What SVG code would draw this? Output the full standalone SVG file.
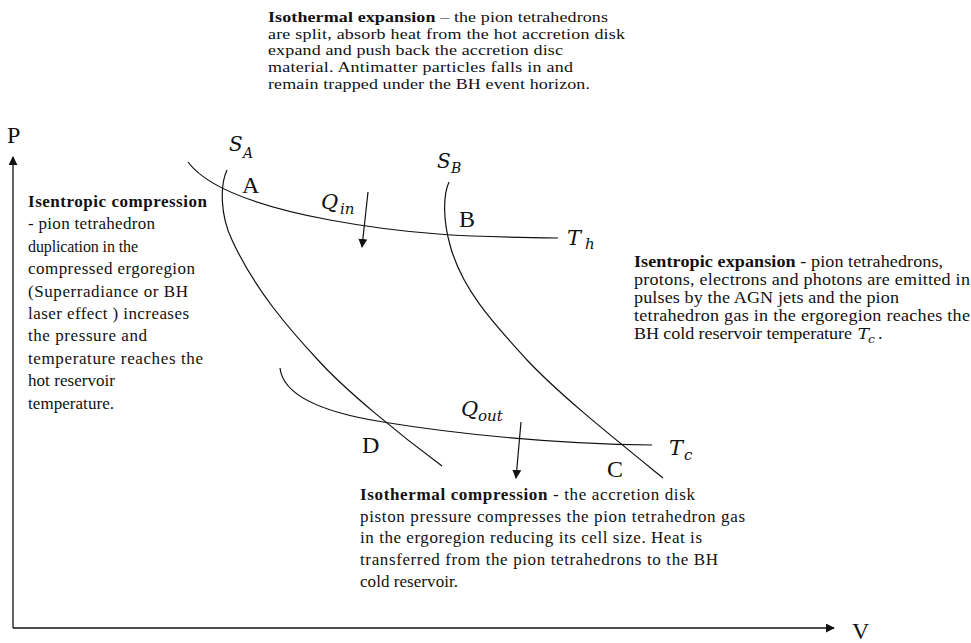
<svg xmlns="http://www.w3.org/2000/svg" width="971" height="643" viewBox="0 0 971 643">
<style>
.t{font-family:"Liberation Serif","Times New Roman",serif;fill:#111;}
.b{font-weight:bold;}
.m{font-family:"DejaVu Serif","Liberation Serif",serif;font-style:italic;fill:#111;}
.u{font-family:"Liberation Serif","Times New Roman",serif;fill:#111;font-size:24px;}
.c{fill:none;stroke:#111;stroke-width:1.2;}
.ax{fill:none;stroke:#111;stroke-width:1.3;}
</style>
<defs>
<marker id="ah" viewBox="0 0 10 10" refX="9" refY="5" markerWidth="9" markerHeight="9" markerUnits="userSpaceOnUse" orient="auto">
<path d="M0,0 L10,5 L0,10 z" fill="#111"/>
</marker>
</defs>
<rect width="971" height="643" fill="#fff"/>

<g id="connectors">
<line class="ax" x1="13" y1="628" x2="13" y2="157" marker-end="url(#ah)"/>
<line class="ax" x1="13" y1="628" x2="834" y2="628" marker-end="url(#ah)"/>
<line class="c" x1="368" y1="192" x2="362" y2="247" marker-end="url(#ah)"/>
<line class="c" x1="521" y1="422" x2="516" y2="478" marker-end="url(#ah)"/>
</g>

<g id="curves">
<path id="Th" class="c" d="M188,162 C205,185 250,205 330,220 S470,237 558,238"/>
<path id="Tc" class="c" d="M280,368 C283,395 320,412 383,422 C450,433 550,444 652,445"/>
<path id="SA" class="c" d="M227,170 C220,185 220,215 232,240 C255,290 290,330 318,360 C345,390 400,435 442,466"/>
<path id="SB" class="c" d="M449,182 C443,195 443,220 450,245 C462,290 495,325 527,360 C560,395 610,435 663,478"/>
</g>

<g id="axis-labels">
<text class="u" x="7" y="143" font-size="22">P</text>
<text class="u" x="852" y="639" font-size="21">V</text>
</g>

<g id="point-labels">
<text class="u" x="242" y="193">A</text>
<text class="u" x="459" y="227">B</text>
<text class="u" x="607" y="477">C</text>
<text class="u" x="362" y="453">D</text>
</g>

<g id="curve-labels">
<text class="m" x="229" y="151" font-size="20">S</text><text class="m" x="243" y="158" font-size="14">A</text>
<text class="m" x="437" y="168" font-size="20">S</text><text class="m" x="451" y="173" font-size="14">B</text>
<text class="m" x="567" y="245" font-size="21">T</text><text class="m" x="585" y="249" font-size="15">h</text>
<text class="m" x="669" y="455" font-size="21">T</text><text class="m" x="684" y="460" font-size="15">c</text>
<text class="m" x="321" y="209" font-size="21">Q</text><text class="m" x="340" y="214" font-size="15">in</text>
<text class="m" x="461" y="416" font-size="21">Q</text><text class="m" x="478" y="421" font-size="15">out</text>
</g>

<g id="isothermal-expansion" class="t" font-size="15" transform="translate(268,0) scale(1.2,1)">
<text x="0" y="22" textLength="283.3" lengthAdjust="spacing"><tspan class="b">Isothermal expansion</tspan> – the pion tetrahedrons</text>
<text x="0" y="38.7" textLength="297.5" lengthAdjust="spacing">are split, absorb heat from the hot accretion disk</text>
<text x="0" y="55.4" textLength="245.8" lengthAdjust="spacing">expand and push back the accretion disc</text>
<text x="0" y="72.1" textLength="254.2" lengthAdjust="spacing">material. Antimatter particles falls in and</text>
<text x="0" y="88.8" textLength="268.3" lengthAdjust="spacing">remain trapped under the BH event horizon.</text>
</g>

<g id="isentropic-compression" class="t" font-size="17">
<text x="28" y="207" textLength="179" lengthAdjust="spacing" class="b">Isentropic compression</text>
<text x="28" y="229.4" textLength="127" lengthAdjust="spacing">- pion tetrahedron</text>
<text x="28" y="251.8" font-size="16" textLength="110" lengthAdjust="spacing">duplication in the</text>
<text x="28" y="274.2" textLength="167" lengthAdjust="spacing">compressed ergoregion</text>
<text x="28" y="296.6" textLength="160" lengthAdjust="spacing">(Superradiance or BH</text>
<text x="28" y="319" textLength="161" lengthAdjust="spacing">laser effect ) increases</text>
<text x="28" y="341.4" textLength="119" lengthAdjust="spacing">the pressure and</text>
<text x="28" y="363.8" textLength="175" lengthAdjust="spacing">temperature reaches the</text>
<text x="28" y="386.2" textLength="87" lengthAdjust="spacing">hot reservoir</text>
<text x="28" y="408.6" textLength="86" lengthAdjust="spacing">temperature.</text>
</g>

<g id="isentropic-expansion" class="t" font-size="16" transform="translate(634,0) scale(1.13,1)">
<text x="0" y="267" textLength="273.5" lengthAdjust="spacing"><tspan class="b">Isentropic expansion</tspan> - pion tetrahedrons,</text>
<text x="0" y="285" textLength="297.3" lengthAdjust="spacing">protons, electrons and photons are emitted in</text>
<text x="0" y="303" textLength="234.5" lengthAdjust="spacing">pulses by the AGN jets and the pion</text>
<text x="0" y="321" textLength="297.3" lengthAdjust="spacing">tetrahedron gas in the ergoregion reaches the</text>
<text x="0" y="339" textLength="192.9" lengthAdjust="spacing">BH cold reservoir temperature</text>
<text class="m" x="198" y="339" font-size="15">T</text><text class="m" x="207" y="343" font-size="11">c</text><text x="216" y="339">.</text>
</g>

<g id="isothermal-compression" class="t" font-size="17">
<text x="360" y="500" textLength="335" lengthAdjust="spacing"><tspan class="b">Isothermal compression</tspan> - the accretion disk</text>
<text x="360" y="521.7" textLength="385" lengthAdjust="spacing">piston pressure compresses the pion tetrahedron gas</text>
<text x="360" y="543.4" textLength="342" lengthAdjust="spacing">in the ergoregion reducing its cell size. Heat is</text>
<text x="360" y="565.1" textLength="358" lengthAdjust="spacing">transferred from the pion tetrahedrons to the BH</text>
<text x="360" y="586.8" textLength="98" lengthAdjust="spacing">cold reservoir.</text>
</g>
</svg>
